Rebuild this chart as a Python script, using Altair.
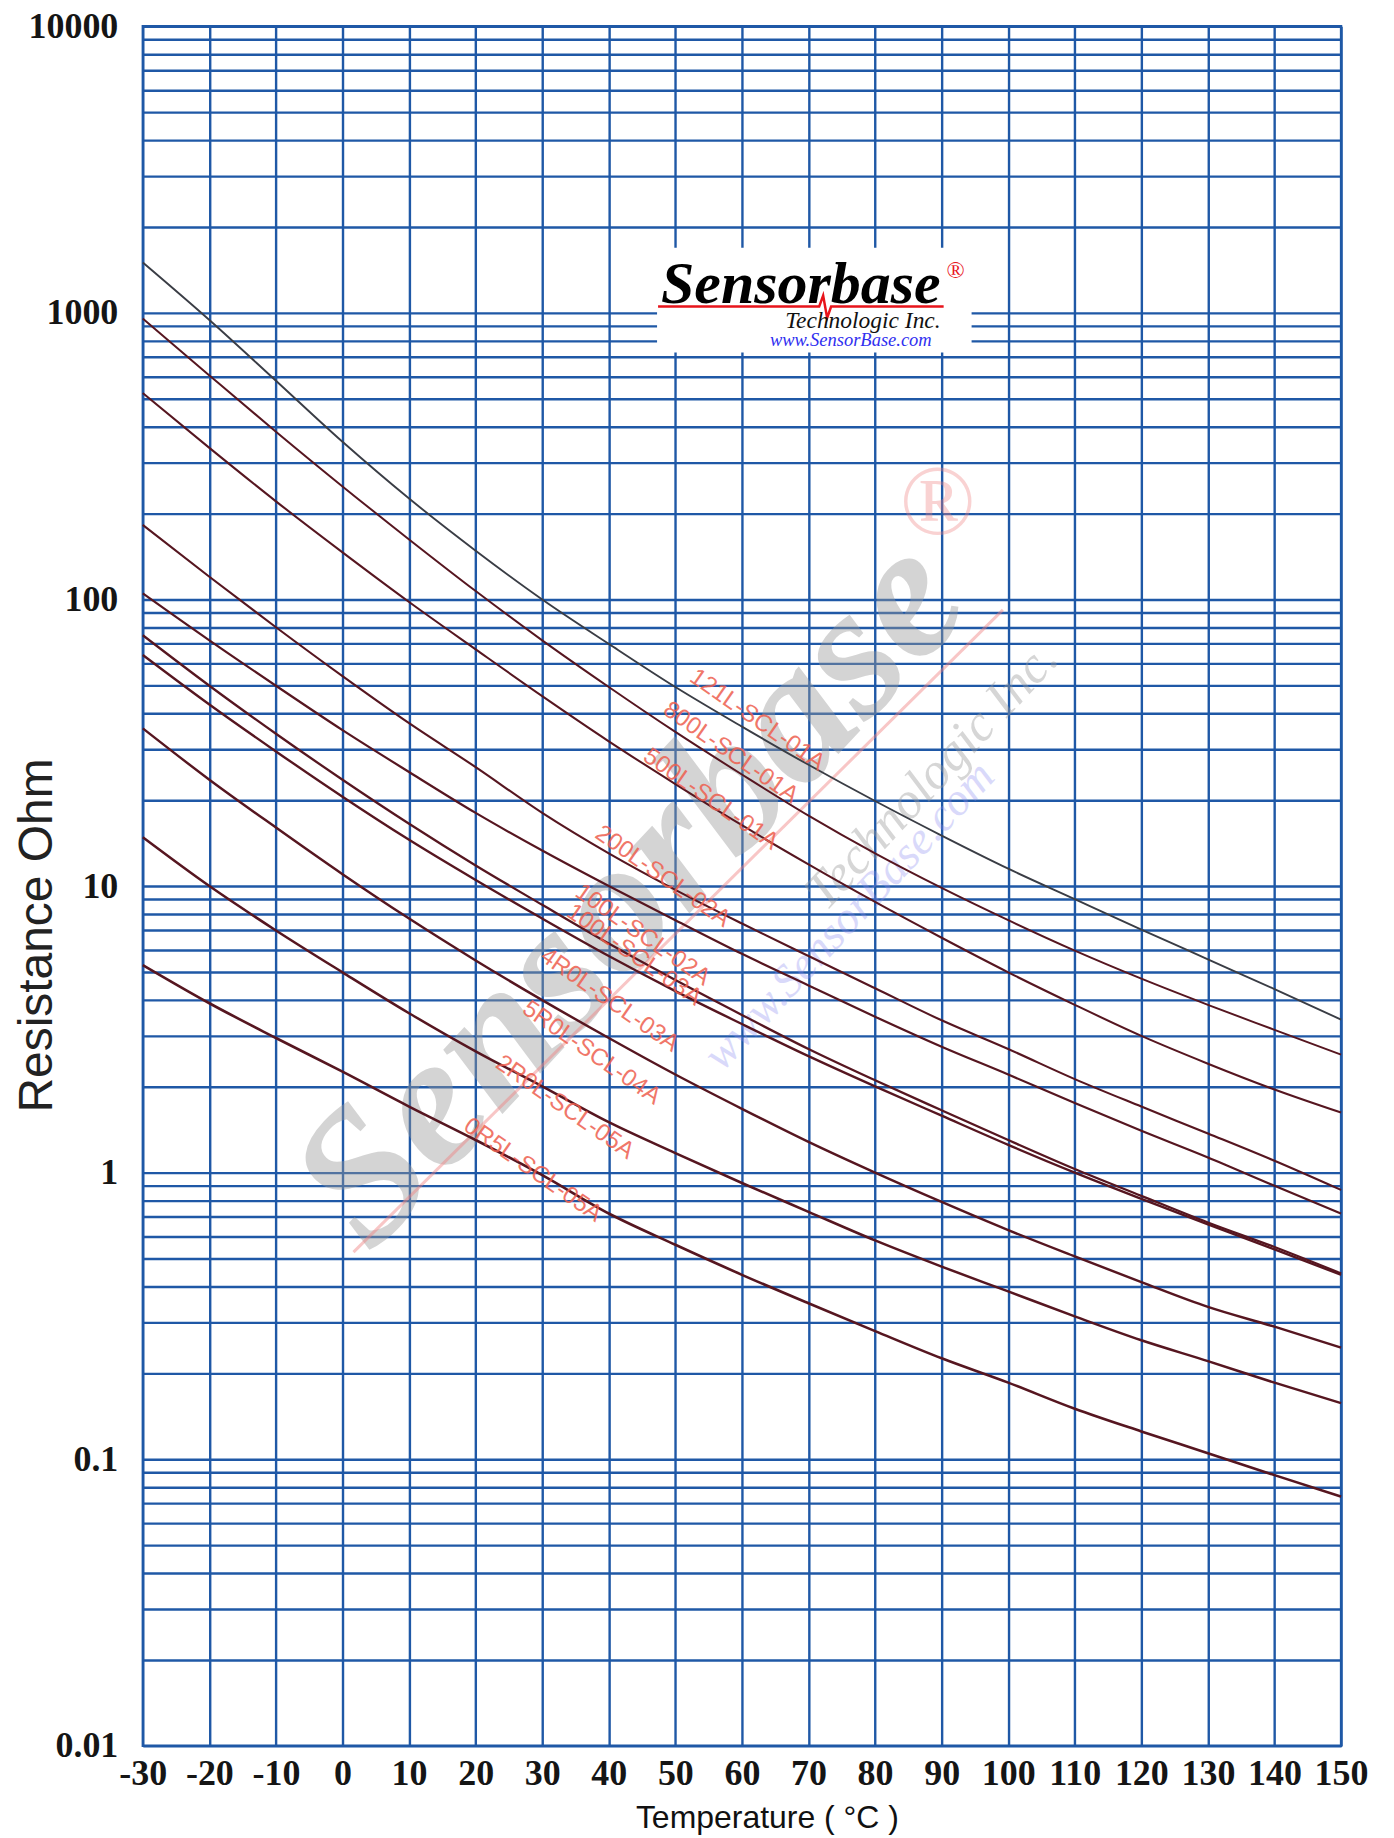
import altair as alt
import pandas as pd

# ---------------- data ----------------
TEMPS = [-30, -20, -10, 0, 10, 20, 30, 40, 50, 60, 70, 80, 90, 100, 110, 120, 130, 140, 150]

R_121L = [1500, 945, 580, 355, 225, 148, 100, 70, 49.5, 36, 26.5, 19.8, 15, 11.5, 9.0, 7.05, 5.55, 4.37, 3.42]
R_800L = [955, 605, 385, 248, 162, 107, 72, 49.5, 34.5, 24.5, 17.6, 13, 9.85, 7.6, 5.95, 4.75, 3.85, 3.15, 2.58]
R_500L = [525, 338, 220, 146, 98, 67, 46, 32, 22.7, 16.3, 11.9, 8.8, 6.6, 5.0, 3.85, 3.0, 2.4, 1.95, 1.62]
R_200L = [182, 120, 80, 54, 37, 26, 18, 13, 9.7, 7.4, 5.7, 4.4, 3.4, 2.7, 2.12, 1.7, 1.37, 1.1, 0.87]
R_100L_02 = [105, 72, 50, 35, 25, 18, 13.3, 10, 7.6, 5.8, 4.5, 3.5, 2.75, 2.2, 1.75, 1.4, 1.13, 0.9, 0.72]
R_100L_03 = [75, 50, 34, 23.5, 16.5, 11.8, 8.6, 6.3, 4.7, 3.55, 2.7, 2.1, 1.65, 1.3, 1.03, 0.83, 0.67, 0.55, 0.445]
R_4R0L = [64, 43, 29.5, 20.5, 14.5, 10.5, 7.7, 5.7, 4.3, 3.3, 2.55, 2.0, 1.58, 1.25, 1.0, 0.81, 0.66, 0.54, 0.44]
R_5R0L = [35.5, 23.5, 16, 11, 7.7, 5.5, 4.0, 2.95, 2.2, 1.67, 1.28, 1.0, 0.79, 0.63, 0.51, 0.415, 0.34, 0.29, 0.245]
R_2R0L = [14.8, 10, 7, 5, 3.6, 2.65, 2.0, 1.5, 1.17, 0.92, 0.73, 0.58, 0.47, 0.385, 0.315, 0.26, 0.22, 0.185, 0.157]
R_0R5L = [5.3, 3.9, 2.95, 2.25, 1.7, 1.3, 0.98, 0.72, 0.56, 0.44, 0.35, 0.28, 0.225, 0.185, 0.15, 0.125, 0.105, 0.088, 0.074]

SERIES_NAMES = ["121L-SCL-01A", "800L-SCL-01A", "500L-SCL-01A", "200L-SCL-02A", "100L-SCL-02A",
                "100L-SCL-03A", "4R0L-SCL-03A", "5R0L-SCL-04A", "2R0L-SCL-05A", "0R5L-SCL-05A"]
SERIES_VALUES = [R_121L, R_800L, R_500L, R_200L, R_100L_02, R_100L_03, R_4R0L, R_5R0L, R_2R0L, R_0R5L]

# curve label anchors (temperature, resistance)
LABEL_T = [62.3, 58.3, 55.3, 48.1, 45.1, 43.8, 40.1, 37.4, 33.4, 28.6]
LABEL_R = [38.0, 29.2, 20.1, 10.8, 6.75, 5.75, 4.0, 2.62, 1.69, 1.02]

# axis ticks
X_TICKS = [-30, -20, -10, 0, 10, 20, 30, 40, 50, 60, 70, 80, 90, 100, 110, 120, 130, 140, 150]
DECADES = [0.01, 0.1, 1, 10, 100, 1000]
MULTS = [1, 2, 3, 4, 5, 6, 7, 8, 9]
Y_GRID = [round(d * m, 6) for d in DECADES for m in MULTS] + [10000]

# logo box (data coordinates)
LOGO_BOX = {"t": [47.25], "t2": [94.5], "r": [1688], "r2": [727.6]}
LOGO_LINE_T = [47.4, 71.6, 72.2, 72.8, 73.4, 90.3]
LOGO_LINE_R = [1052, 1052, 1150, 960, 1052, 1052]

# watermark
WM_LINE_T = [1.65, 99.2]
WM_LINE_R = [0.528, 92]

# ---------------- styling ----------------
GRID = "#1f58a6"
CURVE = "#561620"
COLORS = ["#3a3d45"] + [CURVE] * 9
WIDTHS = [1.9] + [2.6] * 9

x_scale = alt.Scale(domain=[-30, 150], nice=False, zero=False)
y_scale = alt.Scale(type="log", domain=[0.01, 10000], nice=False)

x_axis = alt.Axis(
    values=X_TICKS, grid=True, gridColor=GRID, gridWidth=2.4, gridOpacity=1,
    ticks=False, domain=False, labelFlush=False, labelOverlap=False,
    labelFont="Liberation Serif", labelFontWeight="bold", labelFontSize=36,
    labelColor="#151515", labelPadding=11, labelExpr="toString(datum.value)",
    title="Temperature ( °C )", titleFont="Liberation Sans", titleFontWeight="normal",
    titleFontSize=32, titleColor="#111111", titleX=625, titleY=72,
    titleAlign="center", titleBaseline="middle",
)
y_axis = alt.Axis(
    values=Y_GRID, grid=True, gridColor=GRID, gridWidth=2.4, gridOpacity=1,
    ticks=False, domain=False, labelFlush=False, labelOverlap=False,
    labelFont="Liberation Serif", labelFontWeight="bold", labelFontSize=36,
    labelColor="#151515", labelPadding=25,
    labelExpr="indexof([0.01, 0.1, 1, 10, 100, 1000, 10000], datum.value) >= 0 ? toString(datum.value) : ''",
    title="Resistance Ohm", titleFont="Liberation Sans", titleFontWeight="normal",
    titleFontSize=48, titleColor="#222222", titleX=-105, titleY=910, titleAngle=270,
    titleAlign="center", titleBaseline="middle",
)

X = alt.X("t:Q", scale=x_scale, axis=x_axis)
Y = alt.Y("r:Q", scale=y_scale, axis=y_axis)

# ---------------- tables ----------------
rows = []
for name, vals in zip(SERIES_NAMES, SERIES_VALUES):
    for t, v in zip(TEMPS, vals):
        rows.append({"series": name, "t": t, "r": v})
df = pd.DataFrame(rows)

df_labels = pd.DataFrame({"t": LABEL_T, "r": LABEL_R, "text": SERIES_NAMES})

wm_text = pd.DataFrame({
    "t": [43.3, 88.5, 76.1],
    "r": [9.46, 24.3, 7.87],
    "text": ["Sensorbase", "Technologic Inc.", "www.SensorBase.com"],
})

# ---------------- layers ----------------
wm_big = alt.Chart(wm_text.iloc[[0]]).mark_text(
    angle=313, font="Liberation Serif", fontStyle="italic", fontWeight="bold",
    fontSize=190, color="#9a9a9a", opacity=0.42, align="center", baseline="middle",
).encode(x=X, y=Y, text="text:N")

wm_tech = alt.Chart(wm_text.iloc[[1]]).mark_text(
    angle=313, font="Liberation Serif", fontStyle="italic",
    fontSize=52, color="#9a9a9a", opacity=0.4, align="center", baseline="middle",
).encode(x=X, y=Y, text="text:N")

wm_www = alt.Chart(wm_text.iloc[[2]]).mark_text(
    angle=313, font="Liberation Serif", fontStyle="italic",
    fontSize=46, color="#8c8cf0", opacity=0.32, align="center", baseline="middle",
).encode(x=X, y=Y, text="text:N")

wm_line = alt.Chart(pd.DataFrame({"t": WM_LINE_T, "r": WM_LINE_R})).mark_line(
    color="#f08080", strokeWidth=3, opacity=0.45,
).encode(x=X, y=Y)

wm_reg = alt.Chart(pd.DataFrame({"t": [89.4], "r": [215], "text": ["®"]})).mark_text(
    font="Liberation Serif", fontSize=100, color="#f08080", opacity=0.35,
    align="center", baseline="middle",
).encode(x=X, y=Y, text="text:N")

logo_box = alt.Chart(pd.DataFrame(LOGO_BOX)).mark_rect(color="white", opacity=1).encode(
    x=X, x2="t2:Q", y=Y, y2="r2:Q"
)

logo_line = alt.Chart(pd.DataFrame({"t": LOGO_LINE_T, "r": LOGO_LINE_R})).mark_line(
    color="#e8141b", strokeWidth=2.5,
).encode(x=X, y=Y)

logo_main = alt.Chart(pd.DataFrame({"t": [47.85], "r": [1086], "text": ["Sensorbase"]})).mark_text(
    font="Liberation Serif", fontStyle="italic", fontWeight="bold", fontSize=60,
    color="#000000", align="left", baseline="alphabetic",
).encode(x=X, y=Y, text="text:N")

logo_reg = alt.Chart(pd.DataFrame({"t": [92.1], "r": [1404], "text": ["®"]})).mark_text(
    font="Liberation Serif", fontSize=24, color="#e8141b", align="center", baseline="middle",
).encode(x=X, y=Y, text="text:N")

logo_tech = alt.Chart(pd.DataFrame({"t": [89.85], "r": [885], "text": ["Technologic Inc."]})).mark_text(
    font="Liberation Serif", fontStyle="italic", fontSize=23.5, color="#111111",
    align="right", baseline="alphabetic",
).encode(x=X, y=Y, text="text:N")

logo_www = alt.Chart(pd.DataFrame({"t": [88.5], "r": [765], "text": ["www.SensorBase.com"]})).mark_text(
    font="Liberation Serif", fontStyle="italic", fontSize=18.5, color="#3030f0",
    align="right", baseline="alphabetic",
).encode(x=X, y=Y, text="text:N")

lines = alt.Chart(df).mark_line(interpolate="monotone").encode(
    x=X, y=Y,
    color=alt.Color("series:N", scale=alt.Scale(domain=SERIES_NAMES, range=COLORS), legend=None),
    size=alt.Size("series:N", scale=alt.Scale(domain=SERIES_NAMES, range=WIDTHS), legend=None),
    order=alt.Order("t:Q"),
)

labels = alt.Chart(df_labels).mark_text(
    angle=35, font="Liberation Sans", fontSize=24, color="#ee5f4f", opacity=0.85,
    align="center", baseline="middle",
).encode(x=X, y=Y, text="text:N")

chart = alt.layer(
    wm_big, wm_tech, wm_www, wm_line, wm_reg,
    logo_box, logo_line, logo_main, logo_reg, logo_tech, logo_www,
    lines, labels,
).properties(
    width=1200, height=1722,
    autosize=alt.AutoSizeParams(type="none"),
    padding={"left": 135, "top": 17, "right": 45, "bottom": 91},
    background="white",
).configure_view(
    stroke=GRID, strokeWidth=2.4,
)

chart.save("out.html", embed_options={"renderer": "svg", "actions": False})
